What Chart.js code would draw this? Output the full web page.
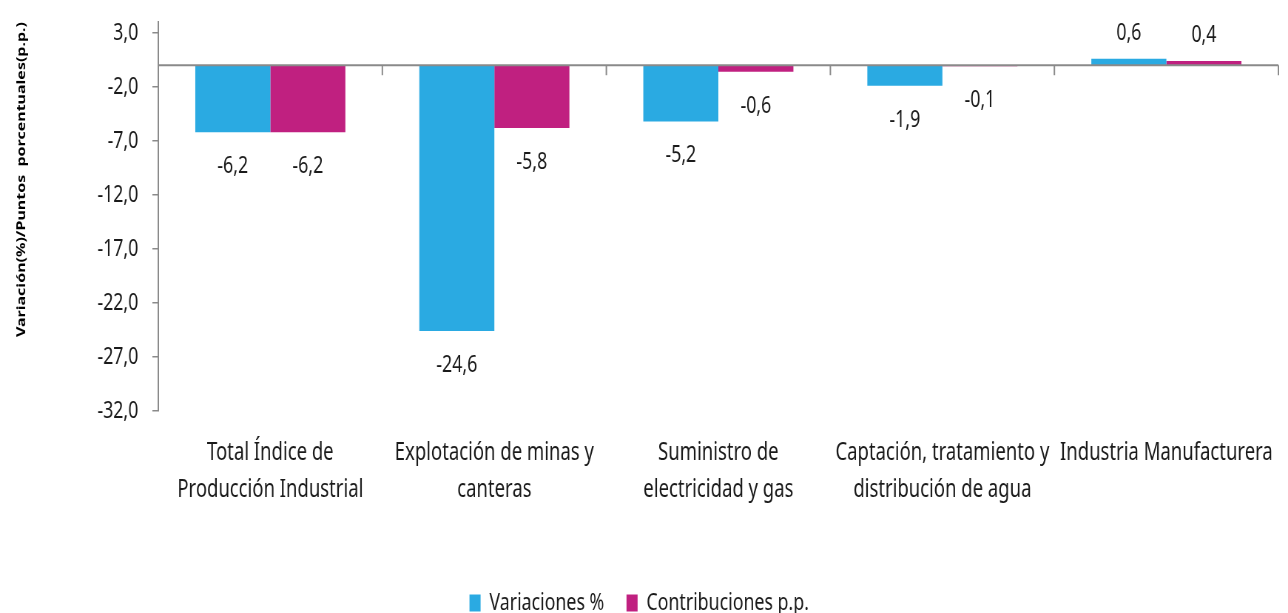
<!DOCTYPE html>
<html>
<head>
<meta charset="utf-8">
<script src="https://cdn.jsdelivr.net/npm/chart.js@4.4.1/dist/chart.umd.min.js"></script>
<style>
  html, body { margin: 0; padding: 0; background: #ffffff; overflow: hidden; }
</style>
</head>
<body>
<canvas id="c" width="1741" height="613" style="display:block;width:1288px;height:613px;"></canvas>
<script>
// ---- data ----
const categories = [
  ['Total Índice de', 'Producción Industrial'],
  ['Explotación de minas y', 'canteras'],
  ['Suministro de', 'electricidad y gas'],
  ['Captación, tratamiento y', 'distribución de agua'],
  ['Industria Manufacturera']
];
const variaciones = [-6.2, -24.6, -5.2, -1.9, 0.6];
const contribuciones = [-6.2, -5.8, -0.6, -0.1, 0.4];
const yTickValues = [3, -2, -7, -12, -17, -22, -27, -32];
const seriesNames = ['Variaciones %', 'Contribuciones p.p.'];
const yTitle = 'Variación(%)/Puntos  porcentuales(p.p.)';

// ---- styling ----
const FONT = '"Noto Sans", "Open Sans", sans-serif';
const TEXT = '#1a1a1a';
const AXIS = '#8a8a8a';
const BLUE = '#2aaae2';
const MAGENTA = '#c02080';

const fmt = v => v.toFixed(1).replace('.', ',');

const zeroAxis = {
  id: 'zeroAxis',
  afterDatasetsDraw(chart) {
    const ctx = chart.ctx;
    const xs = chart.scales.x, ys = chart.scales.y;
    const y0 = ys.getPixelForValue(0);
    ctx.save();
    ctx.strokeStyle = AXIS;
    ctx.lineWidth = 2;
    ctx.beginPath();
    ctx.moveTo(xs.left, y0);
    ctx.lineTo(xs.right, y0);
    ctx.stroke();
    ctx.lineWidth = 2;
    for (let i = 0; i <= categories.length; i++) {
      const x = xs.getPixelForValue(i - 0.5);
      ctx.beginPath();
      ctx.moveTo(x, y0);
      ctx.lineTo(x, y0 + 10);
      ctx.stroke();
    }
    ctx.restore();
  }
};

const valueLabels = {
  id: 'valueLabels',
  afterDatasetsDraw(chart) {
    const ctx = chart.ctx;
    ctx.save();
    ctx.font = '24px ' + FONT;
    ctx.fillStyle = TEXT;
    ctx.textAlign = 'center';
    ctx.textBaseline = 'middle';
    chart.data.datasets.forEach((ds, i) => {
      const meta = chart.getDatasetMeta(i);
      meta.data.forEach((el, j) => {
        const v = ds.data[j];
        const y = v < 0 ? el.y + 34 : el.y - 26;
        ctx.fillText(fmt(v), el.x, y);
      });
    });
    ctx.restore();
  }
};

const canvas = document.getElementById('c');
new Chart(canvas, {
  type: 'bar',
  data: {
    labels: categories,
    datasets: [
      { label: seriesNames[0], data: variaciones, backgroundColor: BLUE, borderWidth: 0 },
      { label: seriesNames[1], data: contribuciones, backgroundColor: MAGENTA, borderWidth: 0 }
    ]
  },
  options: {
    responsive: false,
    devicePixelRatio: 1,
    animation: false,
    layout: { padding: { top: 22, right: 13, bottom: -12, left: 0 } },
    datasets: { bar: { categoryPercentage: 0.67, barPercentage: 1.0 } },
    plugins: {
      legend: {
        position: 'bottom',
        labels: {
          font: { family: FONT, size: 24 },
          color: TEXT,
          boxWidth: 15,
          boxHeight: 17,
          padding: 30
        }
      },
      tooltip: { enabled: false },
      title: { display: false }
    },
    scales: {
      x: {
        grid: { display: false, drawTicks: false },
        border: { display: false },
        ticks: {
          font: { family: FONT, size: 25, lineHeight: 1.48 },
          color: TEXT,
          padding: 23,
          maxRotation: 0,
          autoSkip: false
        },
        afterFit(scale) {
          scale.height = 150;
          scale.paddingLeft = 0;
          scale.paddingRight = 0;
        }
      },
      y: {
        min: -32,
        max: 4,
        afterBuildTicks(scale) { scale.ticks = yTickValues.map(v => ({ value: v })); },
        afterFit(scale) {
          scale.width = 214;
          scale.paddingTop = 0;
          scale.paddingBottom = 0;
        },
        grid: { drawOnChartArea: false, drawTicks: true, tickLength: 8, tickColor: AXIS, lineWidth: 1.5 },
        border: { display: true, color: AXIS, width: 2 },
        ticks: {
          font: { family: FONT, size: 24 },
          color: TEXT,
          padding: 19,
          callback: v => fmt(v)
        },
        title: {
          display: true,
          text: yTitle,
          align: 'end',
          font: { family: FONT, size: 16, weight: 'bold' },
          color: '#000000',
          padding: { top: 20, bottom: 0 }
        }
      }
    }
  },
  plugins: [zeroAxis, valueLabels]
});
canvas.style.width = '1288px';
canvas.style.height = '613px';
</script>
</body>
</html>
